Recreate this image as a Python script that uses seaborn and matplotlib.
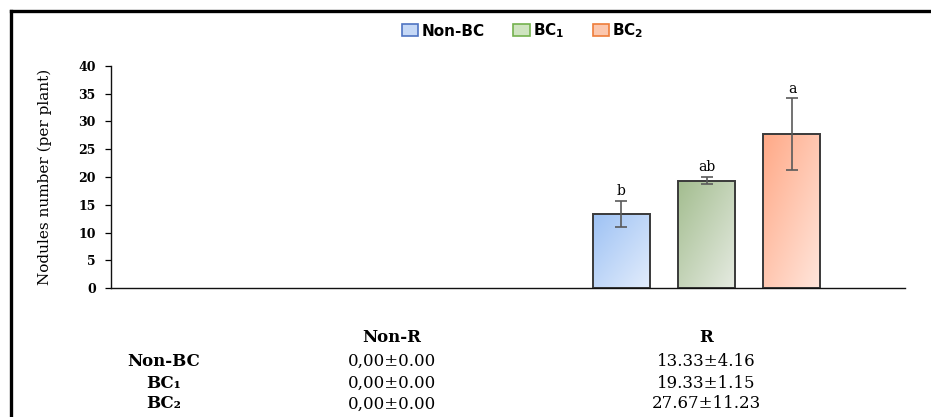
import numpy as np
import pandas as pd
import matplotlib
matplotlib.use("Agg")
import matplotlib.pyplot as plt
import seaborn as sns
from matplotlib.patches import Patch
from matplotlib.lines import Line2D
from matplotlib.colors import LinearSegmentedColormap

# ---- data -------------------------------------------------------------
inoculation = ["Non-R", "R"]
treatments = ["Non-BC", "BC₁", "BC₂"]
legend_labels = ["Non-BC", r"BC$_\mathbf{1}$", r"BC$_\mathbf{2}$"]
mean_non_r = [0.00, 0.00, 0.00]
sd_non_r = [0.00, 0.00, 0.00]
mean_r = [13.33, 19.33, 27.67]
sd_r = [4.16, 1.15, 11.23]
n_rep = 3
letters_r = ["b", "ab", "a"]
y_ticks = [0, 5, 10, 15, 20, 25, 30, 35, 40]
decimal_mark = {"Non-R": ",", "R": "."}

# bar gradients (top-left -> bottom-right) and legend swatch colours
grad_start = ["#9ec2f4", "#a3bd8f", "#ffa987"]
grad_end = ["#e3edfc", "#e6ebe2", "#ffe6dc"]
swatch_fill = ["#c5d8f6", "#cfe4c0", "#fbc7ae"]
swatch_edge = ["#4f74c2", "#74b24e", "#ee7d3a"]

means = {"Non-R": mean_non_r, "R": mean_r}
sds = {"Non-R": sd_non_r, "R": sd_r}
df = pd.DataFrame(
    [(g, t, means[g][i], sds[g][i]) for g in inoculation for i, t in enumerate(treatments)],
    columns=["group", "treatment", "mean", "sd"],
)
df["se"] = df["sd"] / np.sqrt(n_rep)

# ---- figure -----------------------------------------------------------
sns.set_style("white")
plt.rcParams["font.family"] = ["DejaVu Serif", "DejaVu Sans"]
plt.rcParams["text.color"] = "black"
plt.rcParams["axes.labelcolor"] = "black"
plt.rcParams["ytick.color"] = "black"

W, H = 931, 417
fig = plt.figure(figsize=(W / 100, H / 100), dpi=100)
ax = fig.add_axes([111 / W, 1 - 288 / H, (905 - 111) / W, (288 - 66) / H])

sns.barplot(
    data=df, x="group", y="mean", hue="treatment",
    order=inoculation, hue_order=treatments,
    errorbar=None, width=0.646, gap=0.333,
    edgecolor="#3a3a3a", linewidth=1.4, legend=False, ax=ax,
)

xlim = (-0.5, 1.5)
ylim = (0, 40)

gx, gy = np.meshgrid(np.linspace(0, 1, 80), np.linspace(0, 1, 80))
tgrid = (gx + (1 - gy)) / 2

bar_containers = list(ax.containers)
for hi, cont in enumerate(bar_containers):
    cmap = LinearSegmentedColormap.from_list(f"g{hi}", [grad_start[hi], grad_end[hi]])
    sub = df[df["treatment"] == treatments[hi]].set_index("group")
    for gi, bar in enumerate(cont):
        g = inoculation[gi]
        m = sub.loc[g, "mean"]
        se = sub.loc[g, "se"]
        xc = bar.get_x() + bar.get_width() / 2
        if bar.get_height() > 0:
            bar.set_facecolor("none")
            bar.set_zorder(2)
            x0, w, h = bar.get_x(), bar.get_width(), bar.get_height()
            im = ax.imshow(tgrid, cmap=cmap, vmin=0, vmax=1, origin="lower",
                           extent=[x0, x0 + w, 0, h], aspect="auto", zorder=1.5,
                           interpolation="bilinear")
            im.set_clip_path(bar)
        else:
            bar.set_linewidth(0)
        if se > 0:
            ax.errorbar(xc, m, yerr=se, fmt="none", ecolor="#5a5a5a",
                        elinewidth=1.2, capsize=4, capthick=1.2, zorder=3)
            if g == "R":
                ax.annotate(letters_r[hi], (xc, m + se), xytext=(0, 2),
                            textcoords="offset points", ha="center", va="bottom",
                            fontsize=10)

ax.set_xlim(*xlim)
ax.set_ylim(*ylim)
ax.set_yticks(y_ticks)
ax.set_yticklabels([str(v) for v in y_ticks], fontweight="bold", fontsize=9)
ax.tick_params(axis="y", direction="out", length=4, width=0.9, pad=7, left=True,
               colors="black")
ax.tick_params(axis="x", bottom=False, labelbottom=False)
ax.set_xlabel("")
ax.set_ylabel("Nodules number (per plant)", fontsize=11, labelpad=19)
sns.despine(ax=ax)
for s in ("left", "bottom"):
    ax.spines[s].set_color("#111111")
    ax.spines[s].set_linewidth(1.0)

# legend
handles = [Patch(facecolor=swatch_fill[i], edgecolor=swatch_edge[i], linewidth=1.2)
           for i in range(len(treatments))]
fig.legend(handles, legend_labels, loc="center", bbox_to_anchor=(523 / W, 1 - 31 / H),
           ncol=3, frameon=False, prop={"family": "DejaVu Sans", "weight": "bold", "size": 11},
           handlelength=1.05, handleheight=0.8, handletextpad=0.2, columnspacing=1.9)

# summary table (mean ± SD)
col_x = {"Non-R": 392 / W, "R": 706 / W}
row_label_x = 164 / W
header_y = 1 - 338 / H
row_y = [1 - 361 / H, 1 - 383 / H, 1 - 404 / H]
for g in inoculation:
    fig.text(col_x[g], header_y, g, ha="center", va="center", fontsize=12, fontweight="bold")
for i, t in enumerate(treatments):
    fig.text(row_label_x, row_y[i], t, ha="center", va="center", fontsize=12, fontweight="bold")
    for g in inoculation:
        mtxt = f"{means[g][i]:.2f}".replace(".", decimal_mark[g])
        fig.text(col_x[g], row_y[i], f"{mtxt}±{sds[g][i]:.2f}", ha="center", va="center",
                 fontsize=12)

# outer frame (top and left edges)
fig.add_artist(Line2D([10.5 / W, 1.0], [1 - 10.5 / H, 1 - 10.5 / H], color="black", lw=2.4,
                      transform=fig.transFigure, solid_capstyle="projecting"))
fig.add_artist(Line2D([10.5 / W, 10.5 / W], [1 - 10.5 / H, 0.0], color="black", lw=2.4,
                      transform=fig.transFigure, solid_capstyle="projecting"))

fig.savefig("out.png", dpi=100)
